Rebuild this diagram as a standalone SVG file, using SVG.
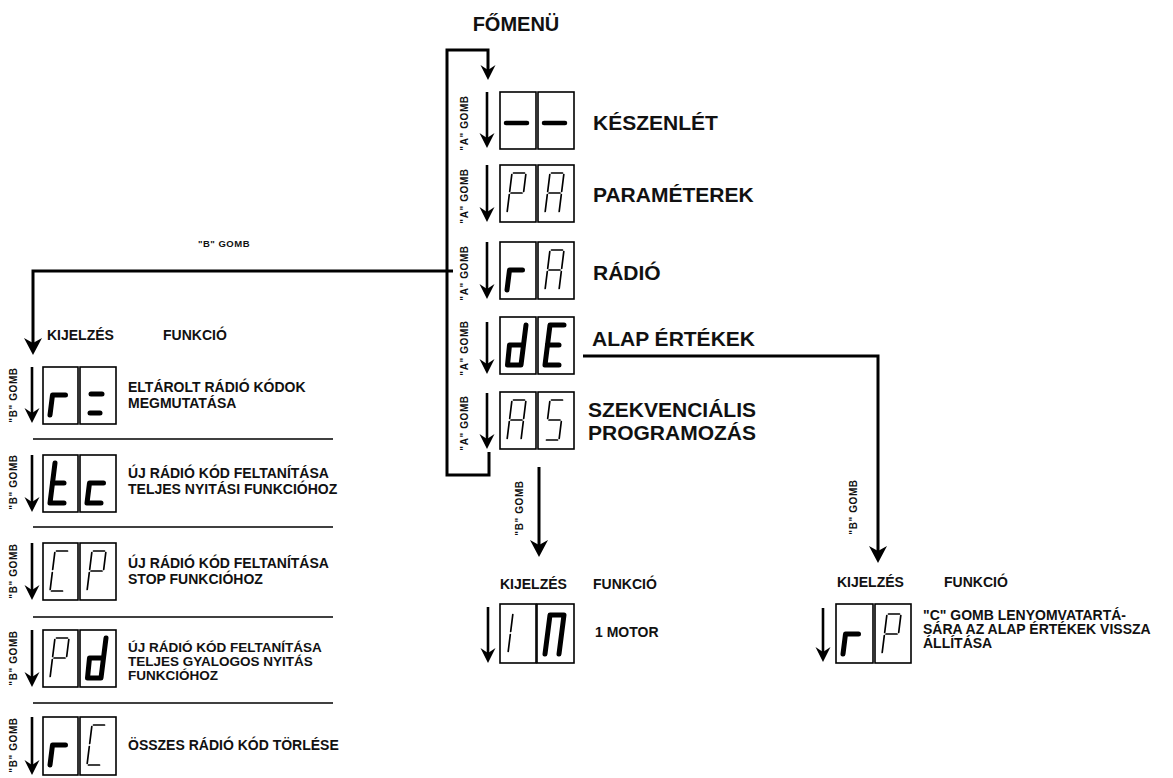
<svg xmlns="http://www.w3.org/2000/svg" xmlns:xlink="http://www.w3.org/1999/xlink" width="1173" height="778" viewBox="0 0 1173 778">
<style>
.t{font-family:"Liberation Sans",Arial,sans-serif;font-weight:bold;fill:#111}
.big{font-size:21px}
.mid{font-size:14px}
.gb{font-size:10px;letter-spacing:0.6px}
.box{fill:#fff;stroke:#000;stroke-width:1.6}
.thin{fill:none;stroke:#000;stroke-width:1.7;stroke-linecap:round}
.bold{fill:none;stroke:#000;stroke-width:5;stroke-linejoin:round;stroke-linecap:round}
.ar{fill:none;stroke:#000;stroke-width:2.6}
.cn{fill:none;stroke:#000;stroke-width:3}
.sep{stroke:#000;stroke-width:1.6}
</style>
<defs>
<marker id="ah" viewBox="-12 -8 17 16" refX="0" refY="0" markerWidth="17" markerHeight="16" markerUnits="userSpaceOnUse" orient="auto">
<path d="M4,0 L-11,-7.5 L-6,0 L-11,7.5 Z" fill="#000"/>
</marker>
<marker id="ahb" viewBox="-13 -9 19 18" refX="0" refY="0" markerWidth="19" markerHeight="18" markerUnits="userSpaceOnUse" orient="auto">
<path d="M5,0 L-12,-9 L-7,0 L-12,9 Z" fill="#000"/>
</marker>
<g id="sP" class="thin"><line x1="13.5" y1="8" x2="24.5" y2="8"/><line x1="25.8" y1="9.5" x2="23.7" y2="26.5"/><line x1="11.8" y1="9.5" x2="9.7" y2="26.5"/><line x1="11" y1="28" x2="22" y2="28"/><line x1="9.3" y1="29.5" x2="7.2" y2="46.5"/></g>
<g id="sA" class="thin"><line x1="13.5" y1="8" x2="24.5" y2="8"/><line x1="25.8" y1="9.5" x2="23.7" y2="26.5"/><line x1="23.3" y1="29.5" x2="21.2" y2="46.5"/><line x1="11.8" y1="9.5" x2="9.7" y2="26.5"/><line x1="11" y1="28" x2="22" y2="28"/><line x1="9.3" y1="29.5" x2="7.2" y2="46.5"/></g>
<g id="sS" class="thin"><line x1="13.5" y1="8" x2="24.5" y2="8"/><line x1="11.8" y1="9.5" x2="9.7" y2="26.5"/><line x1="11" y1="28" x2="22" y2="28"/><line x1="23.3" y1="29.5" x2="21.2" y2="46.5"/><line x1="8.5" y1="48" x2="19.5" y2="48"/></g>
<g id="sC" class="thin"><line x1="13.5" y1="8" x2="24.5" y2="8"/><line x1="11.8" y1="9.5" x2="9.7" y2="26.5"/><line x1="9.3" y1="29.5" x2="7.2" y2="46.5"/><line x1="8.5" y1="48" x2="19.5" y2="48"/></g>
<g id="s1" class="thin"><line x1="12.8" y1="9.5" x2="10.7" y2="26.5"/><line x1="10.3" y1="29.5" x2="8.2" y2="46.5"/></g>
<polyline id="br" class="bold" points="7,48 9.5,28 22.5,28"/>
<polyline id="bd" class="bold" points="26,8 21,48 7.5,48 9.5,28 23.5,28"/>
<g id="bE" class="bold"><polyline points="26,8 12,8 7,48 21,48"/><line x1="9.5" y1="28" x2="21" y2="28"/></g>
<g id="bt" class="bold"><polyline points="12,8 7,48 21,48"/><line x1="9.5" y1="28" x2="21" y2="28"/></g>
<polyline id="bc" class="bold" points="23.5,28 9.5,28 7,48 21,48"/>
<g id="beq" class="bold"><line x1="11" y1="27" x2="22" y2="27"/><line x1="10" y1="46" x2="20" y2="46"/></g>
<polyline id="bpi" class="bold" points="7,49 12,10 26,10 21,49"/>
<line id="bdash" x1="6" y1="31" x2="27" y2="31" stroke="#000" stroke-width="4.5" stroke-linecap="round"/>
</defs>
<rect width="1173" height="778" fill="#fff"/>

<g id="connectors">
<path class="cn" d="M489,452 V475 H447 V50 H488 V76" marker-end="url(#ah)"/>
<path class="cn" d="M453,271 H33 V350" marker-end="url(#ahb)"/>
<path class="cn" d="M539,467 V552" marker-end="url(#ahb)"/>
<path class="cn" d="M583,356 H878 V558" marker-end="url(#ahb)"/>
<text class="t" x="224" y="247" font-size="9.5" letter-spacing="0.5" text-anchor="middle">"B" GOMB</text>
<text class="t gb" transform="translate(519,508) rotate(-90)" text-anchor="middle" dominant-baseline="central">"B" GOMB</text>
<text class="t gb" transform="translate(853,507) rotate(-90)" text-anchor="middle" dominant-baseline="central">"B" GOMB</text>
</g>

<g id="title"><text class="t" x="516" y="31" font-size="20" text-anchor="middle">FŐMENÜ</text></g>

<g id="m1">
<line class="ar" x1="487" y1="92" x2="487" y2="144" marker-end="url(#ah)"/>
<text class="t gb" transform="translate(464,123) rotate(-90)" text-anchor="middle" dominant-baseline="central">"A" GOMB</text>
<rect class="box" x="500" y="92" width="36" height="57"/><rect class="box" x="538" y="92" width="36" height="57"/>
<use xlink:href="#bdash" x="500" y="92"/><use xlink:href="#bdash" x="538" y="92"/>
<text class="t big" x="593" y="130">KÉSZENLÉT</text>
</g>
<g id="m2">
<line class="ar" x1="487" y1="165" x2="487" y2="218" marker-end="url(#ah)"/>
<text class="t gb" transform="translate(464,196) rotate(-90)" text-anchor="middle" dominant-baseline="central">"A" GOMB</text>
<rect class="box" x="500" y="165" width="36" height="57"/><rect class="box" x="538" y="165" width="36" height="57"/>
<use xlink:href="#sP" x="500" y="165"/><use xlink:href="#sA" x="538" y="165"/>
<text class="t big" x="593" y="202">PARAMÉTEREK</text>
</g>
<g id="m3">
<line class="ar" x1="487" y1="242" x2="487" y2="295" marker-end="url(#ah)"/>
<text class="t gb" transform="translate(464,273) rotate(-90)" text-anchor="middle" dominant-baseline="central">"A" GOMB</text>
<rect class="box" x="500" y="242" width="36" height="57"/><rect class="box" x="538" y="242" width="36" height="57"/>
<use xlink:href="#br" x="500" y="242"/><use xlink:href="#sA" x="538" y="242"/>
<text class="t big" x="593" y="280">RÁDIÓ</text>
</g>
<g id="m4">
<line class="ar" x1="487" y1="322" x2="487" y2="370" marker-end="url(#ah)"/>
<text class="t gb" transform="translate(464,348) rotate(-90)" text-anchor="middle" dominant-baseline="central">"A" GOMB</text>
<rect class="box" x="500" y="317" width="36" height="57"/><rect class="box" x="538" y="317" width="36" height="57"/>
<use xlink:href="#bd" x="500" y="317"/><use xlink:href="#bE" x="538" y="317"/>
<text class="t big" x="592" y="346">ALAP ÉRTÉKEK</text>
</g>
<g id="m5">
<line class="ar" x1="487" y1="393" x2="487" y2="445" marker-end="url(#ah)"/>
<text class="t gb" transform="translate(464,423) rotate(-90)" text-anchor="middle" dominant-baseline="central">"A" GOMB</text>
<rect class="box" x="500" y="392" width="36" height="57"/><rect class="box" x="538" y="392" width="36" height="57"/>
<use xlink:href="#sA" x="500" y="392"/><use xlink:href="#sS" x="538" y="392"/>
<text class="t big" x="588" y="417">SZEKVENCIÁLIS</text>
<text class="t big" x="588" y="440">PROGRAMOZÁS</text>
</g>

<g id="left-header">
<text class="t mid" x="47" y="340">KIJELZÉS</text>
<text class="t mid" x="163" y="340">FUNKCIÓ</text>
<line class="sep" x1="33" y1="439" x2="333" y2="439"/>
<line class="sep" x1="33" y1="527" x2="333" y2="527"/>
<line class="sep" x1="33" y1="617" x2="333" y2="617"/>
<line class="sep" x1="33" y1="703" x2="333" y2="703"/>
</g>
<g id="l1">
<line class="ar" x1="32" y1="367" x2="32" y2="419" marker-end="url(#ah)"/>
<text class="t gb" transform="translate(13,395) rotate(-90)" text-anchor="middle" dominant-baseline="central">"B" GOMB</text>
<rect class="box" x="43" y="367" width="35" height="57"/><rect class="box" x="80" y="367" width="36" height="57"/>
<use xlink:href="#br" x="43" y="367"/><use xlink:href="#beq" x="80" y="367"/>
<text class="t mid" x="128" y="392">ELTÁROLT RÁDIÓ KÓDOK</text>
<text class="t mid" x="128" y="408">MEGMUTATÁSA</text>
</g>
<g id="l2">
<line class="ar" x1="32" y1="455" x2="32" y2="508" marker-end="url(#ah)"/>
<text class="t gb" transform="translate(13,482) rotate(-90)" text-anchor="middle" dominant-baseline="central">"B" GOMB</text>
<rect class="box" x="43" y="455" width="35" height="57"/><rect class="box" x="80" y="455" width="36" height="57"/>
<use xlink:href="#bt" x="43" y="455"/><use xlink:href="#bc" x="80" y="455"/>
<text class="t mid" x="128" y="478">ÚJ RÁDIÓ KÓD FELTANÍTÁSA</text>
<text class="t mid" x="128" y="494">TELJES NYITÁSI FUNKCIÓHOZ</text>
</g>
<g id="l3">
<line class="ar" x1="32" y1="543" x2="32" y2="596" marker-end="url(#ah)"/>
<text class="t gb" transform="translate(13,571) rotate(-90)" text-anchor="middle" dominant-baseline="central">"B" GOMB</text>
<rect class="box" x="43" y="543" width="35" height="57"/><rect class="box" x="80" y="543" width="36" height="57"/>
<use xlink:href="#sC" x="43" y="543"/><use xlink:href="#sP" x="80" y="543"/>
<text class="t mid" x="128" y="568">ÚJ RÁDIÓ KÓD FELTANÍTÁSA</text>
<text class="t mid" x="128" y="584">STOP FUNKCIÓHOZ</text>
</g>
<g id="l4">
<line class="ar" x1="32" y1="630" x2="32" y2="683" marker-end="url(#ah)"/>
<text class="t gb" transform="translate(13,658) rotate(-90)" text-anchor="middle" dominant-baseline="central">"B" GOMB</text>
<rect class="box" x="43" y="630" width="35" height="57"/><rect class="box" x="80" y="630" width="36" height="57"/>
<use xlink:href="#sP" x="43" y="630"/><use xlink:href="#bd" x="80" y="630"/>
<text class="t" font-size="13.5" x="128" y="652">ÚJ RÁDIÓ KÓD FELTANÍTÁSA</text>
<text class="t" font-size="13.5" x="128" y="666">TELJES GYALOGOS NYITÁS</text>
<text class="t" font-size="13.5" x="128" y="680">FUNKCIÓHOZ</text>
</g>
<g id="l5">
<line class="ar" x1="32" y1="717" x2="32" y2="771" marker-end="url(#ah)"/>
<text class="t gb" transform="translate(13,745) rotate(-90)" text-anchor="middle" dominant-baseline="central">"B" GOMB</text>
<rect class="box" x="43" y="717" width="35" height="58"/><rect class="box" x="80" y="717" width="36" height="58"/>
<use xlink:href="#br" x="43" y="717"/><use xlink:href="#sC" x="80" y="717"/>
<text class="t mid" x="128" y="750">ÖSSZES RÁDIÓ KÓD TÖRLÉSE</text>
</g>

<g id="motor">
<text class="t mid" x="500" y="589">KIJELZÉS</text>
<text class="t mid" x="593" y="589">FUNKCIÓ</text>
<line class="ar" x1="488" y1="607" x2="488" y2="659" marker-end="url(#ah)"/>
<rect class="box" x="500" y="604" width="36" height="59"/><rect class="box" x="537" y="604" width="37" height="59"/>
<use xlink:href="#s1" x="500" y="605"/><use xlink:href="#bpi" x="538" y="605"/>
<text class="t mid" x="595" y="637">1 MOTOR</text>
</g>

<g id="reset">
<text class="t mid" x="837" y="587">KIJELZÉS</text>
<text class="t mid" x="944" y="587">FUNKCIÓ</text>
<line class="ar" x1="823" y1="608" x2="823" y2="658" marker-end="url(#ah)"/>
<rect class="box" x="836" y="604" width="37" height="59"/><rect class="box" x="875" y="604" width="36" height="59"/>
<use xlink:href="#br" x="836" y="606"/><use xlink:href="#sP" x="875" y="606"/>
<text class="t mid" x="923" y="620">"C" GOMB LENYOMVATARTÁ-</text>
<text class="t mid" x="923" y="634">SÁRA AZ ALAP ÉRTÉKEK VISSZA</text>
<text class="t mid" x="923" y="648">ÁLLÍTÁSA</text>
</g>
</svg>
